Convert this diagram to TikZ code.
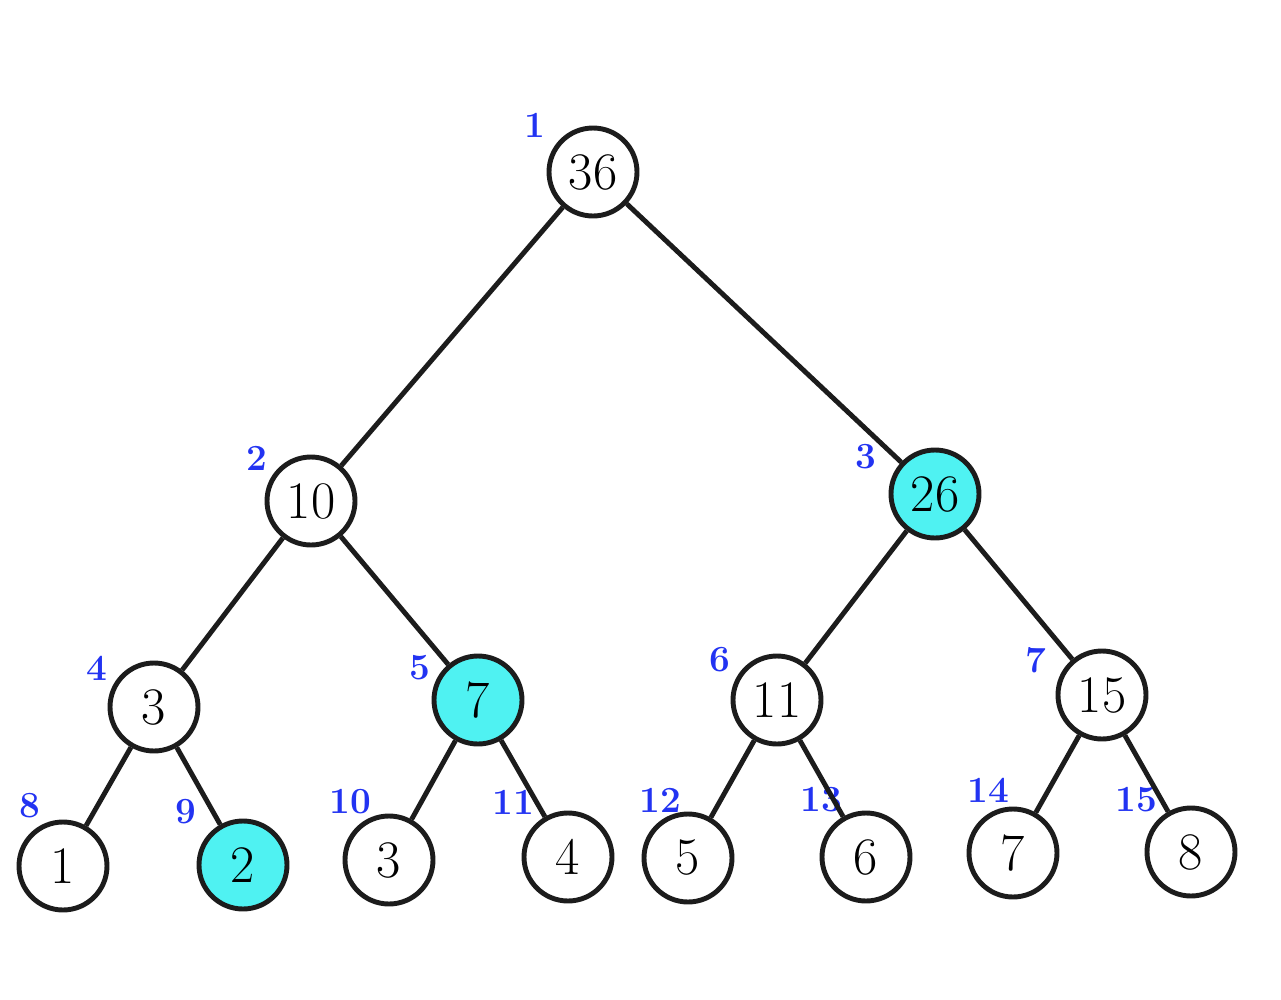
\documentclass[tikz,border=0pt]{standalone}
\usetikzlibrary{positioning}
\definecolor{edgeink}{HTML}{1C1C1C}
\definecolor{hitfill}{HTML}{4FF2F2}
\definecolor{idxblue}{HTML}{2233F2}

\begin{document}
\begin{tikzpicture}[
  every node/.style={font=\fontsize{30}{36}\selectfont},
  treenode/.style={
    circle, draw=edgeink, line width=2.8pt, fill=white,
    minimum size=1.76cm, inner sep=0pt
  },
  hitnode/.style={treenode, fill=hitfill},
  idx/.style={text=idxblue, font=\fontsize{21}{24}\selectfont\bfseries, inner sep=0pt},
  link/.style={draw=edgeink, line width=2.8pt}
]
\useasboundingbox (0,0) rectangle (25.62,-20);

% level 1
\node[treenode] (n1) at (11.86,-3.44) {36};
% level 2
\node[treenode] (n2) at (6.22,-10.02) {10};
\node[hitnode]  (n3) at (18.70,-9.88) {26};
% level 3
\node[treenode] (n4) at (3.08,-14.14) {3};
\node[hitnode]  (n5) at (9.56,-14.00) {7};
\node[treenode] (n6) at (15.54,-14.00) {11};
\node[treenode] (n7) at (22.04,-13.90) {15};
% leaves
\node[treenode] (n8)  at (1.26,-17.32) {1};
\node[hitnode]  (n9)  at (4.86,-17.30) {2};
\node[treenode] (n10) at (7.78,-17.20) {3};
\node[treenode] (n11) at (11.36,-17.14) {4};
\node[treenode] (n12) at (13.76,-17.16) {5};
\node[treenode] (n13) at (17.32,-17.14) {6};
\node[treenode] (n14) at (20.26,-17.06) {7};
\node[treenode] (n15) at (23.82,-17.04) {8};

% indices
\node[idx] (i1)  at (10.70,-2.50)  {1};
\node[idx] (i2)  at (5.14,-9.16)   {2};
\node[idx] (i3)  at (17.32,-9.14)  {3};
\node[idx] (i4)  at (1.94,-13.36)  {4};
\node[idx] (i5)  at (8.40,-13.36)  {5};
\node[idx] (i6)  at (14.40,-13.20) {6};
\node[idx] (i7)  at (20.72,-13.20) {7};
\node[idx] (i8)  at (0.60,-16.12)  {8};
\node[idx] (i9)  at (3.72,-16.24)  {9};
\node[idx] (i10) at (7.00,-16.04)  {10};
\node[idx] (i11) at (10.26,-16.04) {11};
\node[idx] (i12) at (13.20,-16.00) {12};
\node[idx] (i13) at (16.42,-16.00) {13};
\node[idx] (i14) at (19.76,-15.80) {14};
\node[idx] (i15) at (22.72,-16.00) {15};

\draw[link] (n1) -- (n2);
\draw[link] (n1) -- (n3);
\draw[link] (n2) -- (n4);
\draw[link] (n2) -- (n5);
\draw[link] (n3) -- (n6);
\draw[link] (n3) -- (n7);
\draw[link] (n4) -- (n8);
\draw[link] (n4) -- (n9);
\draw[link] (n5) -- (n10);
\draw[link] (n5) -- (n11);
\draw[link] (n6) -- (n12);
\draw[link] (n6) -- (n13);
\draw[link] (n7) -- (n14);
\draw[link] (n7) -- (n15);

\end{tikzpicture}
\end{document}
